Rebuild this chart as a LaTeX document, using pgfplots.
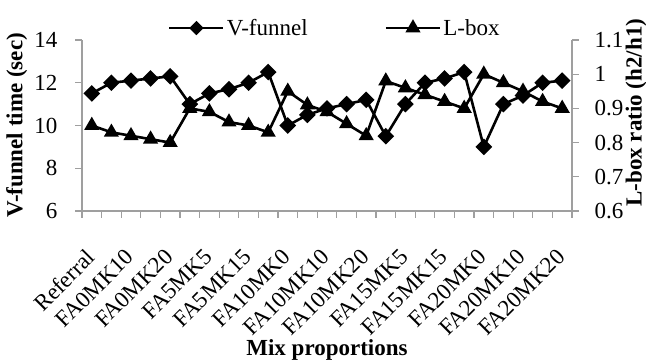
\documentclass[border=0pt]{standalone}
\usepackage{fontspec}
\setmainfont{Liberation Serif}
\usepackage{pgfplots}
\pgfplotsset{compat=1.18}
\begin{document}
\begin{tikzpicture}[font=\fontsize{23}{27}\selectfont]
\pgfplotsset{
  common/.style={
    scale only axis, width=490pt, height=171pt,
    at={(0,0)}, anchor=south west,
    xmin=-0.5, xmax=24.5,
    /pgf/number format/assume math mode=true,
    tick align=outside,
    axis line style={draw=gray!75, line width=1.3pt},
    tick style={draw=gray!75, line width=1.3pt},
    major tick length=6.5pt,
    clip=false,
  },
  serie/.style={black, line width=2.6pt, mark options={solid}},
}
\begin{axis}[common,
  axis x line*=bottom, axis y line*=left,
  ymin=6, ymax=14, ytick={6,8,10,12,14},
  xtick={-0.5,0.5,...,24.5},
  xticklabels={Referral,,FA0MK10,,FA0MK20,,FA5MK5,,FA5MK15,,FA10MK0,,FA10MK10,,FA10MK20,,FA15MK5,,FA15MK15,,FA20MK0,,FA20MK10,,FA20MK20,,},
  xticklabel style={xshift=3pt, yshift=-30pt, rotate=45, anchor=north east, inner sep=0pt},
  yticklabel style={inner sep=0pt, xshift=-18pt, anchor=east},
  ylabel={\bfseries V-funnel time (sec)},
  ylabel style={at={(axis description cs:-0.133,0.5)}, anchor=center},
  xlabel={\bfseries Mix proportions},
  xlabel style={at={(axis description cs:0.5,-0.813)}, anchor=center},
]
\addplot[serie, mark=square*, mark size=4.6pt, mark options={rotate=45}] coordinates {
(0,11.5) (1,12.0) (2,12.1) (3,12.2) (4,12.3) (5,11.0) (6,11.5) (7,11.7) (8,12.0) (9,12.5)
(10,10.0) (11,10.5) (12,10.8) (13,11.0) (14,11.2) (15,9.5) (16,11.0) (17,12.0) (18,12.2) (19,12.5)
(20,9.0) (21,11.0) (22,11.4) (23,12.0) (24,12.1)
};
\end{axis}
\begin{axis}[common,
  axis x line=none, axis y line*=right,
  ymin=0.6, ymax=1.1, ytick={0.6,0.7,0.8,0.9,1,1.1},
  yticklabel style={inner sep=0pt, xshift=16pt, anchor=west},
  yticklabel={\pgfmathprintnumber[fixed]{\tick}},
  ylabel={\bfseries L-box ratio (h2/h1)},
  ylabel style={at={(axis description cs:1.131,0.575)}, anchor=center},
  legend style={at={(0.516,1.07)}, anchor=center, draw=none, fill=none,
    legend columns=2, inner sep=0pt,
    /tikz/every even column/.append style={column sep=75pt},
    legend cell align=left},
  legend image code/.code={\draw[mark repeat=2,mark phase=2,#1] plot coordinates {(0pt,0pt) (27pt,0pt) (54pt,0pt)};},
]
\addlegendimage{serie, mark=square*, mark size=3.8pt, mark options={rotate=45}}
\addlegendentry{V-funnel}
\addplot[serie, mark=triangle*, mark size=6.2pt] coordinates {
(0,0.85) (1,0.83) (2,0.82) (3,0.81) (4,0.80) (5,0.90) (6,0.89) (7,0.86) (8,0.85) (9,0.83)
(10,0.95) (11,0.91) (12,0.89) (13,0.855) (14,0.82) (15,0.98) (16,0.96) (17,0.94) (18,0.92) (19,0.90)
(20,1.0) (21,0.975) (22,0.95) (23,0.92) (24,0.90)
};
\addlegendentry{L-box}
\end{axis}
\pgfresetboundingbox
\useasboundingbox (-82pt,-153pt) rectangle (564pt,211pt);
\end{tikzpicture}
\end{document}
